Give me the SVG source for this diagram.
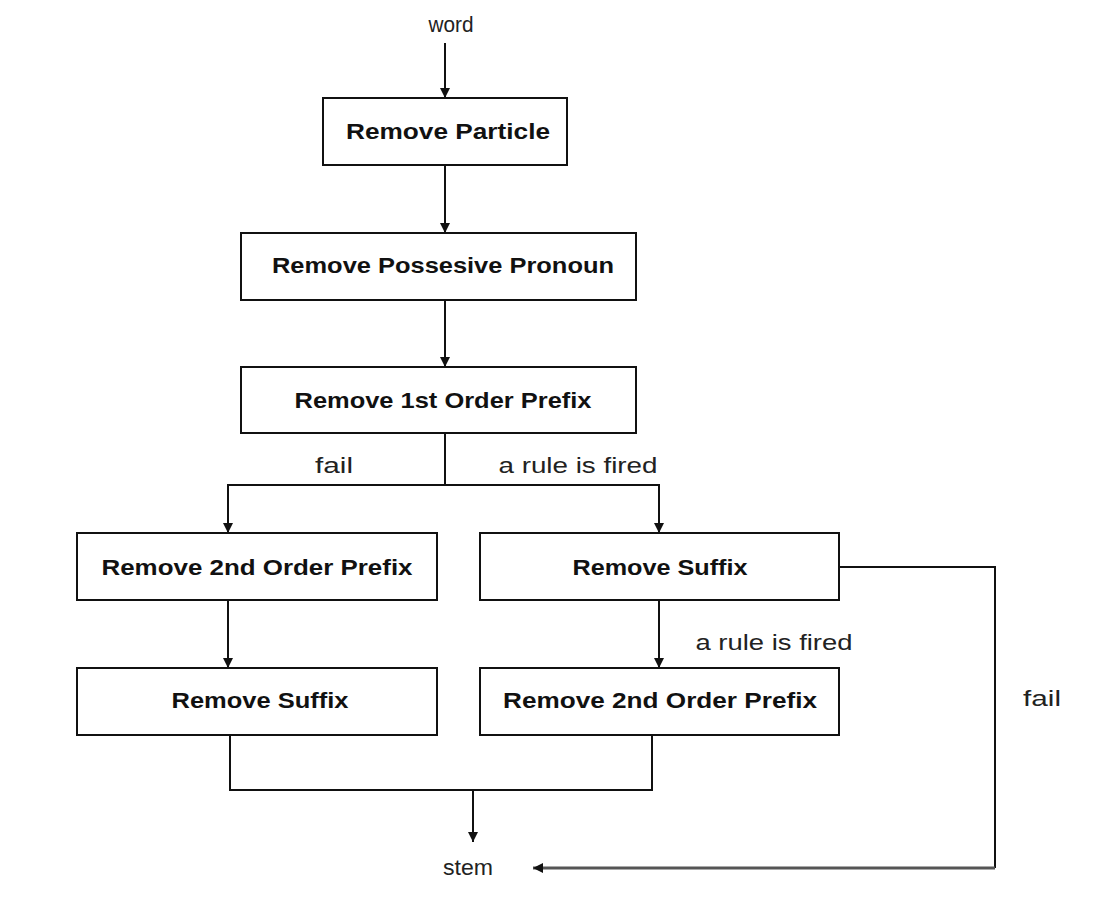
<svg xmlns="http://www.w3.org/2000/svg" width="1114" height="900" viewBox="0 0 1114 900">
<style>
.box{fill:#fff;stroke:#111;stroke-width:2}
.t{font-family:"Liberation Sans",Arial,sans-serif;font-size:22px;font-weight:bold;fill:#111;text-anchor:middle;dominant-baseline:central}
.l{font-family:"Liberation Sans",Arial,sans-serif;font-size:22px;fill:#222;text-anchor:middle;dominant-baseline:central}
.c{fill:none;stroke:#111;stroke-width:2}
</style>
<defs>
<marker id="ah" viewBox="0 0 10 12" refX="10" refY="6" markerWidth="10" markerHeight="12" markerUnits="userSpaceOnUse" orient="auto">
<path d="M0,1 L10,6 L0,11 Z" fill="#111"/>
</marker>
</defs>
<rect width="1114" height="900" fill="#fff"/>
<g id="connectors">
<line class="c" x1="445" y1="43" x2="445" y2="98" marker-end="url(#ah)"/>
<line class="c" x1="445" y1="166" x2="445" y2="233" marker-end="url(#ah)"/>
<line class="c" x1="445" y1="300" x2="445" y2="367" marker-end="url(#ah)"/>
<polyline class="c" points="445,433 445,485"/>
<polyline class="c" points="445,485 659,485 659,533" marker-end="url(#ah)"/>
<polyline class="c" points="445,485 228,485 228,533" marker-end="url(#ah)"/>
<line class="c" x1="228" y1="600" x2="228" y2="668" marker-end="url(#ah)"/>
<line class="c" x1="659" y1="600" x2="659" y2="668" marker-end="url(#ah)"/>
<polyline class="c" points="230,735 230,790 652,790 652,735"/>
<line class="c" x1="473" y1="790" x2="473" y2="842" marker-end="url(#ah)"/>
<polyline class="c" points="839,567 995,567 995,868"/>
<line x1="995" y1="868" x2="533" y2="868" stroke="#555" stroke-width="3" marker-end="url(#ah)"/>
<text class="l" x="334" y="465" textLength="38" lengthAdjust="spacingAndGlyphs">fail</text>
<text class="l" x="578" y="465" textLength="159" lengthAdjust="spacingAndGlyphs">a rule is fired</text>
<text class="l" x="774" y="642" textLength="157" lengthAdjust="spacingAndGlyphs">a rule is fired</text>
<text class="l" x="1042" y="698" textLength="38" lengthAdjust="spacingAndGlyphs">fail</text>
</g>
<g id="word"><text class="l" x="451" y="24" textLength="45" lengthAdjust="spacingAndGlyphs">word</text></g>
<g id="stem"><text class="l" x="468" y="867" textLength="50" lengthAdjust="spacingAndGlyphs">stem</text></g>
<g id="n1"><rect class="box" x="323" y="98" width="244" height="67"/><text class="t" x="448" y="131" textLength="204" lengthAdjust="spacingAndGlyphs">Remove Particle</text></g>
<g id="n2"><rect class="box" x="241" y="233" width="395" height="67"/><text class="t" x="443" y="265" textLength="342" lengthAdjust="spacingAndGlyphs">Remove Possesive Pronoun</text></g>
<g id="n3"><rect class="box" x="241" y="367" width="395" height="66"/><text class="t" x="443" y="400" textLength="297" lengthAdjust="spacingAndGlyphs">Remove 1st Order Prefix</text></g>
<g id="n4"><rect class="box" x="77" y="533" width="360" height="67"/><text class="t" x="257" y="567" textLength="311" lengthAdjust="spacingAndGlyphs">Remove 2nd Order Prefix</text></g>
<g id="n5"><rect class="box" x="480" y="533" width="359" height="67"/><text class="t" x="660" y="567" textLength="175" lengthAdjust="spacingAndGlyphs">Remove Suffix</text></g>
<g id="n6"><rect class="box" x="77" y="668" width="360" height="67"/><text class="t" x="260" y="700" textLength="177" lengthAdjust="spacingAndGlyphs">Remove Suffix</text></g>
<g id="n7"><rect class="box" x="480" y="668" width="359" height="67"/><text class="t" x="660" y="700" textLength="314" lengthAdjust="spacingAndGlyphs">Remove 2nd Order Prefix</text></g>
</svg>
